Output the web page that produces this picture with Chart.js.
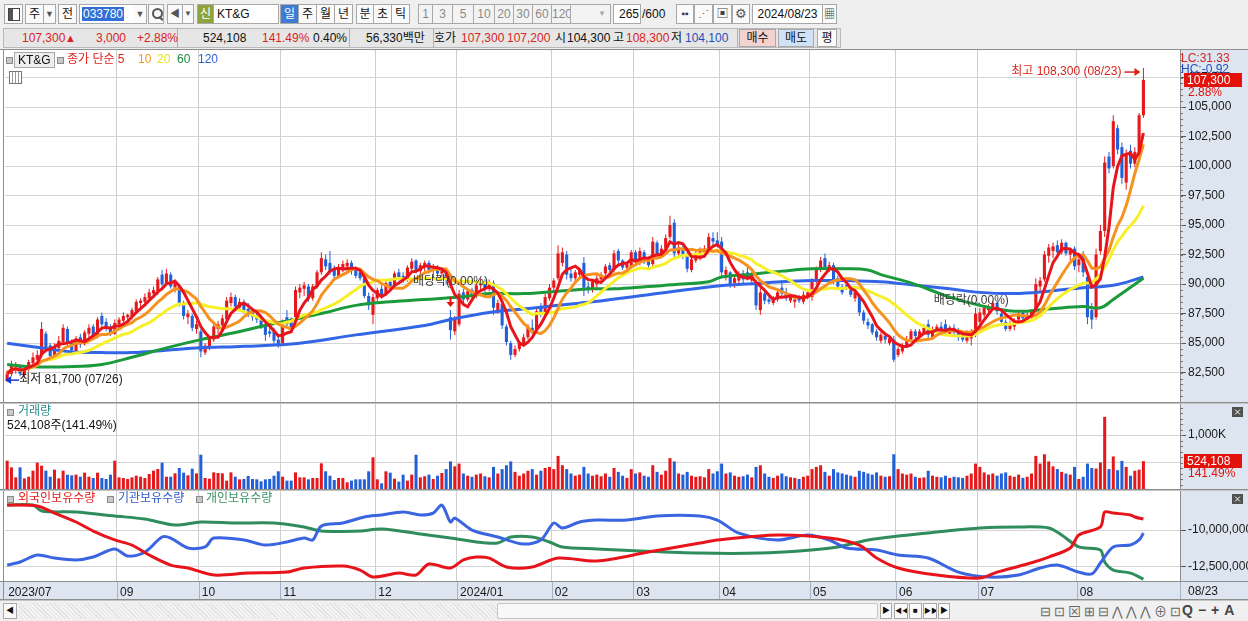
<!DOCTYPE html>
<html>
<head>
<meta charset="utf-8">
<script src="https://cdn.jsdelivr.net/npm/chart.js@4.4.1/dist/chart.umd.min.js"></script>
<style>
body{margin:0;width:1248px;height:621px;overflow:hidden;background:#efefef;position:relative;font:12px "Liberation Sans","Noto Sans CJK KR",sans-serif;color:#111}
.b{position:absolute;box-sizing:border-box;border:1px solid #a8a8a8;background:#fafafa;text-align:center;white-space:nowrap;overflow:hidden}
.r1{top:4px;height:20px;line-height:18px}
.t{position:absolute;white-space:nowrap;line-height:15px}
.red{color:#d8241c}.blu{color:#1d4fb8}
.num{color:#8a8a8a;background:#f3f3f3}
.sq{position:absolute;width:5px;height:5px;border:1px solid #8a8a8a;background:#c8c8c8}
.sep{position:absolute;top:0;width:1px;height:18px;background:#b0b0b0}
#wrap{position:absolute;left:0;top:49px;width:1248px;height:551px}
</style>
</head>
<body>
<!-- toolbar row 1 -->
<div class="b r1" style="left:4px;width:19px"><div style="position:absolute;left:3px;top:3px;width:10px;height:11px;border:1px solid #444;background:linear-gradient(90deg,#555 0 4px,#fff 4px)"></div></div>
<div class="b r1" style="left:25px;width:19px">주</div>
<div class="b r1" style="left:43px;width:13px;font-size:9px;color:#555">▼</div>
<div class="b r1" style="left:58px;width:19px">전</div>
<div class="b r1" style="left:79px;width:68px;background:#fff;text-align:left"><span style="margin-left:2px;background:#2f6fd6;color:#fff;padding:0 1px">033780</span></div>
<div class="b r1" style="left:134px;width:13px;font-size:9px;color:#555;border-left:none">▼</div>
<div class="b r1" style="left:148px;width:16px"><div style="position:absolute;left:3px;top:3px;width:7px;height:7px;border:2px solid #555;border-radius:50%"></div><div style="position:absolute;left:11px;top:11px;width:2px;height:5px;background:#555;transform:rotate(-45deg)"></div></div>
<div class="b r1" style="left:167px;width:16px;font-size:10px;color:#555">◀</div>
<div class="b r1" style="left:182px;width:12px;font-size:8px;color:#555">▼</div>
<div class="b r1" style="left:197px;width:17px;background:#8ea43a;color:#fff">신</div>
<div class="b r1" style="left:213px;width:66px;background:#fff;text-align:left;padding-left:3px">KT&amp;G</div>
<div class="b r1" style="left:280px;width:19px;background:#3e7bd2;color:#fff">일</div>
<div class="b r1" style="left:298px;width:19px">주</div>
<div class="b r1" style="left:316px;width:19px">월</div>
<div class="b r1" style="left:334px;width:19px">년</div>
<div class="b r1" style="left:356px;width:18px">분</div>
<div class="b r1" style="left:373px;width:19px">초</div>
<div class="b r1" style="left:391px;width:19px">틱</div>
<div class="b r1 num" style="left:418px;width:15px">1</div>
<div class="b r1 num" style="left:432px;width:21px">3</div>
<div class="b r1 num" style="left:452px;width:22px">5</div>
<div class="b r1 num" style="left:473px;width:22px">10</div>
<div class="b r1 num" style="left:494px;width:20px">20</div>
<div class="b r1 num" style="left:513px;width:20px">30</div>
<div class="b r1 num" style="left:532px;width:20px">60</div>
<div class="b r1 num" style="left:551px;width:20px">120</div>
<div class="b r1" style="left:570px;width:41px;background:#f3f3f3;text-align:right;padding-right:4px;font-size:8px;color:#aaa">▼</div>
<div class="b r1" style="left:613px;width:28px;background:#fff;text-align:right;padding-right:1px">265</div>
<div class="t" style="left:642px;top:7px">/600</div>
<div class="b r1" style="left:676px;width:18px;font-size:10px;color:#333">▪▪</div>
<div class="b r1" style="left:694px;width:19px;font-size:11px;color:#555">⋰</div>
<div class="b r1" style="left:713px;width:19px;font-size:12px;color:#444">▣</div>
<div class="b r1" style="left:732px;width:18px;font-size:13px;color:#555">⚙</div>
<div class="b r1" style="left:752px;width:71px;background:#fff">2024/08/23</div>
<div class="b r1" style="left:822px;width:15px;font-size:11px;color:#444">▦</div>

<!-- toolbar row 2 -->
<div style="position:absolute;left:3px;top:28px;width:838px;height:20px;background:#e6e6e6;border:1px solid #b8b8b8;box-sizing:border-box">
  <div class="sep" style="left:173px"></div><div class="sep" style="left:345px"></div><div class="sep" style="left:429px"></div><div class="sep" style="left:733px"></div>
</div>
<div class="t red" style="left:22px;top:31px">107,300</div>
<div class="t red" style="left:65px;top:31px;font-size:11px">▲</div>
<div class="t red" style="left:96px;top:31px">3,000</div>
<div class="t red" style="left:137px;top:31px">+2.88%</div>
<div class="t" style="left:203px;top:31px">524,108</div>
<div class="t red" style="left:262px;top:31px">141.49%</div>
<div class="t" style="left:313px;top:31px">0.40%</div>
<div class="t" style="left:366px;top:31px">56,330백만</div>
<div class="t" style="left:434px;top:31px">호가</div>
<div class="t red" style="left:461px;top:31px">107,300</div>
<div class="t red" style="left:507px;top:31px">107,200</div>
<div class="t" style="left:555px;top:31px">시</div>
<div class="t" style="left:567px;top:31px">104,300</div>
<div class="t" style="left:613px;top:31px">고</div>
<div class="t red" style="left:626px;top:31px">108,300</div>
<div class="t" style="left:671px;top:31px">저</div>
<div class="t blu" style="left:685px;top:31px">104,100</div>
<div class="b" style="left:739px;top:29px;width:37px;height:18px;line-height:16px;background:#f4d2d0">매수</div>
<div class="b" style="left:778px;top:29px;width:36px;height:18px;line-height:16px;background:#d2e2f6">매도</div>
<div class="b" style="left:817px;top:29px;width:20px;height:18px;line-height:16px;background:#fbfbfb">평</div>

<div id="wrap"><canvas id="c" width="1248" height="551"></canvas></div>

<!-- pane legends -->
<div class="sq" style="left:6px;top:57px"></div>
<div class="t" style="left:14px;top:52px;height:14px;padding:0 3px;border:1px solid #a8a8a8;background:#eeeeee">KT&amp;G</div>
<div class="sq" style="left:57px;top:57px"></div>
<div class="t" style="left:67px;top:52px;color:#e0201c">종가 단순 5</div>
<div class="t" style="left:138px;top:52px;color:#f29a1e">10</div>
<div class="t" style="left:157px;top:52px;color:#e6e21e">20</div>
<div class="t" style="left:177px;top:52px;color:#1e8c3c">60</div>
<div class="t" style="left:198px;top:52px;color:#3060d0">120</div>
<div style="position:absolute;left:9px;top:71px;width:11px;height:11px;border:1px solid #777;background:repeating-linear-gradient(90deg,#fff 0 2px,#999 2px 3px)"></div>

<div class="sq" style="left:7px;top:409px"></div>
<div class="t" style="left:18px;top:404px;color:#2a8c8c">거래량</div>
<div class="t" style="left:7px;top:418px">524,108주(141.49%)</div>

<div class="sq" style="left:7px;top:496px"></div>
<div class="t" style="left:18px;top:491px;color:#e0201c">외국인보유수량</div>
<div class="sq" style="left:107px;top:496px"></div>
<div class="t" style="left:118px;top:491px;color:#3058c8">기관보유수량</div>
<div class="sq" style="left:196px;top:496px"></div>
<div class="t" style="left:206px;top:491px;color:#3a9068">개인보유수량</div>

<!-- bottom scroll bar -->
<div style="position:absolute;left:0;top:600px;width:1248px;height:21px;background:#f0f0f0;border-top:1px solid #c4c4c4;box-sizing:border-box">
  <div class="b" style="left:3px;top:2px;width:14px;height:16px;line-height:14px;font-size:8px">◀</div>
  <div style="position:absolute;left:18px;top:2px;width:860px;height:16px;background:repeating-linear-gradient(45deg,#e2e2e2 0 1px,#f3f3f3 1px 3px)"></div>
  <div style="position:absolute;left:497px;top:2px;width:381px;height:16px;background:#f8f8f8;border:1px solid #c6c6c6;box-sizing:border-box;border-radius:2px"></div>
  <div class="b" style="left:880px;top:2px;width:12px;height:16px;line-height:14px;font-size:8px">▶</div>
  <div class="b" style="left:894px;top:2px;width:14px;height:16px;line-height:14px;font-size:7px">◀◀</div>
  <div class="b" style="left:909px;top:2px;width:13px;height:16px;line-height:14px;font-size:8px">■</div>
  <div class="b" style="left:923px;top:2px;width:14px;height:16px;line-height:14px;font-size:7px">▶▶</div>
  <div class="b" style="left:938px;top:2px;width:12px;height:16px;line-height:14px;font-size:8px">▶</div>
  <div class="t" style="left:1040px;top:3px;color:#666;font-size:13px;letter-spacing:3px">⊟⊡⊠⊞⊟⋀⋀⋀⊕⊡</div>
  <div class="t" style="left:1182px;top:2px;color:#444;font-size:14px;font-weight:bold;letter-spacing:5px">Q−+A</div>
</div>

<script>
// ---- data (prices in units of 100 won, volume in thousand shares, holdings in million shares) ----
const SLOTS = 273; // 265 trading days plus empty room on the right
const TICK_LABELS = ['2023/07', '09', '10', '11', '12', '2024/01', '02', '03', '04', '05', '06', '07', '08'];
const TICK_BARS = [0, 26, 45, 64, 86, 105, 127, 146, 166, 187, 207, 226, 249];
const PRICE_TICKS = [82500, 85000, 87500, 90000, 92500, 95000, 97500, 100000, 102500, 105000, 107500];
const VOLUME_TICKS = [500, 1000];
const HOLD_TICKS = [-12.5, -10];

const OPEN = [
  818,824,829,830,823,828,833,836,840,858,848,839,846,851,862,851,843,855,849,858,864,856,873,868,864,858,
  866,869,872,873,877,884,885,888,892,894,908,901,908,897,898,883,872,873,862,
  860,842,846,853,862,865,870,884,889,880,885,879,877,873,871,866,860,860,853,
  850,872,868,872,893,896,898,888,898,910,921,918,912,907,913,915,918,912,910,905,890,874,
  888,896,891,902,898,910,907,904,913,920,911,915,918,912,913,909,910,872,860,
  866,893,887,895,890,899,902,896,901,878,883,864,850,840,845,849,855,863,862,880,875,888,
  897,905,918,925,909,905,908,918,898,895,900,904,909,916,912,928,920,914,915,
  927,918,927,920,917,935,925,930,940,952,926,930,925,912,920,924,927,929,939,937,
  936,908,910,901,903,909,910,903,901,878,892,887,884,887,897,893,886,885,889,885,889,
  889,902,912,922,913,916,905,898,899,895,888,890,876,868,866,860,852,856,850,853,
  840,843,848,853,860,856,859,866,855,861,864,866,858,863,861,858,852,854,857,
  868,874,878,880,884,875,868,862,864,870,876,871,873,878,898,904,924,928,933,927,935,925,930,
  916,925,906,878,872,928,945,1008,1000,1032,1016,986,1013,1002,1012,1043
];
const HIGH = [
  827,835,834,832,831,836,842,844,868,860,850,850,856,866,864,853,856,858,861,866,866,872,876,871,866,870,
  872,876,875,880,887,888,892,896,898,906,912,913,910,904,900,886,878,875,869,
  862,850,856,866,869,874,889,893,891,888,887,884,880,877,874,868,866,863,857,
  870,878,872,898,900,902,900,900,912,927,925,928,916,917,920,921,920,915,913,906,893,892,
  897,899,903,905,911,913,910,916,922,921,918,920,920,917,916,914,912,878,873,
  895,896,896,897,901,905,904,904,903,887,885,866,852,848,852,858,866,870,880,884,892,900,
  905,933,931,928,914,912,914,923,902,904,908,910,917,918,929,930,921,919,929,
  929,931,929,922,940,937,933,942,958,955,934,933,927,924,929,931,933,943,944,944,
  940,915,911,908,911,912,917,910,903,898,895,889,890,896,903,897,892,890,891,894,895,
  905,915,923,926,919,918,907,900,903,897,896,891,878,871,867,862,859,858,856,856,
  847,850,856,862,862,862,866,870,864,866,868,870,865,866,863,860,861,862,880,
  880,882,883,886,886,877,870,869,871,877,878,877,879,905,906,928,934,935,937,938,936,931,932,
  925,928,908,884,930,950,1008,1012,1043,1035,1020,1014,1018,1016,1045,1083
];
const LOW = [
  817,822,824,822,821,826,830,833,838,842,836,837,843,849,848,840,842,846,848,855,853,854,864,860,856,857,
  864,866,867,870,875,878,881,885,888,891,898,899,896,893,881,870,866,860,858,
  838,840,844,851,858,862,868,881,878,877,875,872,869,867,862,852,855,848,846,
  848,864,860,870,888,890,885,886,896,908,912,908,904,905,910,911,908,905,903,888,878,866,
  885,888,890,895,896,903,901,902,910,909,908,911,909,906,906,904,900,853,857,
  864,884,885,887,888,894,893,894,874,875,862,848,836,838,843,847,853,858,860,872,873,886,
  894,903,915,904,902,902,905,890,892,893,897,901,907,910,910,917,912,911,913,
  916,916,917,913,914,921,922,928,938,922,924,921,910,910,918,920,923,926,933,931,
  905,903,897,897,900,901,903,899,878,874,883,883,882,885,890,886,884,880,884,883,887,
  886,900,910,912,910,900,896,891,895,889,885,873,866,862,857,852,850,850,848,834,
  838,841,846,851,853,854,857,852,853,859,858,858,856,857,852,851,850,848,855,
  865,872,875,878,874,866,860,860,861,868,869,869,871,876,893,902,918,922,925,925,924,920,912,
  910,906,866,862,870,925,940,994,998,1010,985,980,998,999,1008,1041
];
const CLOSE = [
  824,831,830,824,829,834,838,840,862,846,839,847,852,863,850,844,854,849,859,863,856,870,866,862,858,867,
  870,873,874,878,885,886,889,893,895,904,900,909,898,901,884,873,875,863,866,
  843,848,854,864,866,871,886,889,881,885,878,876,872,870,865,857,858,852,849,
  868,866,863,895,897,899,888,898,910,922,915,910,907,914,917,918,911,907,905,890,882,889,
  895,891,901,898,909,906,904,914,919,911,916,918,912,914,909,911,904,861,870,
  892,887,894,890,899,902,896,901,880,884,865,851,840,845,850,855,864,860,877,874,889,897,
  903,926,927,908,905,910,912,897,895,902,905,908,915,912,926,920,914,917,927,
  919,928,920,916,936,924,930,939,950,926,931,925,913,921,926,928,930,940,936,934,
  910,912,900,905,909,904,906,907,882,893,886,885,888,893,892,888,890,887,886,891,893,
  902,912,920,914,916,903,898,893,897,891,893,876,869,865,859,855,857,853,854,836,
  845,848,853,860,856,860,863,857,862,864,861,860,863,859,855,853,858,860,875,
  876,880,881,884,877,868,862,866,869,875,871,874,877,900,903,925,931,932,927,935,926,928,915,
  921,910,872,870,925,945,1003,998,1038,1014,990,1010,1002,1012,1043,1073
];
const VOLUME = [
  533,412,230,412,212,242,352,497,442,352,242,370,212,352,279,267,279,242,315,242,218,315,218,200,279,533,
  230,218,200,230,260,242,218,291,352,382,497,242,242,303,400,315,267,388,303,
  642,218,206,321,309,303,170,321,242,194,200,255,200,194,158,194,200,260,340,
  242,170,170,321,230,230,194,218,218,485,340,260,182,218,218,140,170,194,194,194,340,594,
  194,121,340,315,206,152,279,170,279,642,230,250,280,200,260,310,380,520,430,
  480,300,260,240,280,300,250,230,420,300,380,450,520,330,260,300,350,380,280,350,400,420,
  380,620,450,380,300,260,280,420,300,260,280,250,300,240,400,330,260,220,380,
  300,320,260,240,450,330,280,350,580,520,300,280,330,260,240,250,230,380,300,340,
  480,300,320,260,240,250,280,230,420,450,300,240,220,260,300,250,230,220,200,240,260,
  380,420,450,330,260,380,320,300,280,260,240,350,330,300,280,320,260,240,250,650,
  380,300,280,300,240,220,230,350,260,240,230,260,220,240,230,220,260,300,480,
  420,320,280,300,260,300,320,260,240,280,220,240,300,620,480,650,520,430,380,330,300,280,420,
  200,240,480,400,390,500,1330,380,610,360,530,420,260,350,370.42,524.108
];
// long moving averages at sample bars
const MA60_BARS = [0,6,14,22,29,37,45,53,60,68,74,81,89,97,105,112,120,128,136,141,149,157,163,166,172,180,187,195,200,203,210,219,226,234,242,250,254,257,264];
const MA60 = [832,830,830,832,838,846,853,859,865,871,876,882,885,887,889,892,892,894,896,896,898,900,902,906,908,911,913,913,912,908,901,889,882,877,879,881,880,887,905];
const MA120_BARS = [0,6,14,22,29,37,45,53,60,68,81,97,103,112,120,128,136,149,164,172,180,187,195,203,211,219,226,234,242,250,257,264];
const MA120 = [850,847,843,842,842,844,846,847,848,850,857,865,870,876,879,882,885,891,898,900,902,903,903,902,899,896,893,892,894,897,899,906];
// holdings (foreign / institution / individual)
const FOREIGN_BARS = [0,7,11,16,20,25,29,33,38,42,48,56,65,69,78,82,85,91,95,98,103,106,109,112,116,122,128,137,149,161,165,179,191,198,202,207,216,226,230,237,242,247,249,254,255,257,261,262,264];
const FOREIGN = [-8.29,-8.36,-8.84,-9.45,-10.07,-10.68,-11.03,-11.71,-12.40,-12.60,-13.08,-12.95,-12.88,-12.60,-12.47,-12.74,-13.22,-12.95,-13.08,-12.33,-12.60,-12.05,-11.85,-11.92,-12.53,-12.53,-11.92,-12.12,-11.51,-10.89,-10.68,-10.34,-10.55,-11.03,-11.92,-12.60,-13.08,-13.29,-12.88,-12.33,-11.85,-11.23,-10.34,-9.79,-8.77,-8.84,-8.97,-9.11,-9.25];
const INST_BARS = [0,3,7,11,16,20,25,28,32,36,38,42,46,48,55,60,65,69,71,73,78,83,87,92,96,99,101,103,104,108,114,120,124,127,129,133,137,144,151,161,165,170,179,186,191,195,202,207,214,221,228,235,240,244,249,252,254,257,261,263,264];
const INST = [-12.40,-12.19,-11.71,-11.92,-12.05,-11.85,-11.30,-11.78,-11.51,-10.48,-10.55,-11.23,-11.16,-10.55,-10.68,-11.03,-10.82,-10.55,-10.68,-9.73,-9.52,-9.11,-8.97,-8.77,-8.97,-8.84,-8.29,-9.45,-9.18,-10.00,-10.48,-10.96,-10.68,-9.52,-9.86,-9.45,-9.32,-9.32,-9.04,-9.04,-9.32,-10.21,-10.68,-10.34,-10.68,-11.23,-11.37,-11.71,-11.92,-12.88,-13.22,-13.08,-12.60,-12.40,-12.88,-13.01,-12.26,-11.16,-11.03,-10.68,-10.21];
const INDIV_BARS = [0,6,8,16,25,32,39,45,53,62,69,73,82,87,96,103,109,114,117,122,126,129,137,147,161,175,184,193,200,207,216,226,235,242,245,249,254,255,257,261,264];
const INDIV = [-8.29,-8.29,-8.70,-8.77,-9.04,-9.25,-9.66,-9.45,-9.52,-9.52,-9.79,-10.07,-10.07,-9.93,-10.27,-10.55,-10.82,-10.89,-10.48,-10.48,-10.82,-11.16,-11.30,-11.44,-11.58,-11.58,-11.44,-11.16,-10.68,-10.41,-10.14,-9.86,-9.79,-9.86,-10.34,-11.16,-11.37,-12.19,-12.74,-12.95,-13.36];

const EX_DIV_BARS = [103, 224];
const HIGH_DATE = '08/23';
const LOW_DATE = '07/26';

// ---- helpers ----
const FONT = '12px "Liberation Sans", "Noto Sans CJK KR", sans-serif';
const UP = '#e5191b', DOWN = '#2160d8', CLEAR = 'rgba(0,0,0,0)';
Chart.defaults.font.family = '"Liberation Sans", "Noto Sans CJK KR", sans-serif';
Chart.defaults.font.size = 12;
Chart.defaults.color = '#1a1a1a';

const won = v => v * 100;
const fmt = v => Math.round(v).toLocaleString('en-US');
function sma(values, n) {
  return values.map((v, i) => {
    const from = Math.max(0, i - n + 1);
    let s = 0;
    for (let k = from; k <= i; k++) s += values[k];
    return s / (i - from + 1);
  });
}
const pts = (bars, vals, f) => bars.map((b, k) => ({x: b, y: f(vals[k])}));
const closeW = CLOSE.map(won);
const barColor = OPEN.map((o, i) => CLOSE[i] >= o ? UP : DOWN);
const labels = [];
for (let i = 0; i < SLOTS; i++) labels.push(i);

const last = CLOSE.length - 1;
const iHigh = HIGH.indexOf(Math.max(...HIGH));
const iLow = LOW.indexOf(Math.min(...LOW));

function arrow(ctx, x1, y, x2, color) {
  const d = x2 > x1 ? 1 : -1;
  ctx.strokeStyle = color; ctx.fillStyle = color; ctx.lineWidth = 1.5;
  ctx.beginPath(); ctx.moveTo(x1, y); ctx.lineTo(x2 - d * 4, y); ctx.stroke();
  ctx.beginPath(); ctx.moveTo(x2, y); ctx.lineTo(x2 - d * 6, y - 4); ctx.lineTo(x2 - d * 6, y + 4); ctx.closePath(); ctx.fill();
}

// fixed tick sets, and no extra label padding so the panes keep their full height
const fixTicks = list => s => { s.ticks = list.map(v => ({value: v})); };
const fitRight = s => { s.width = 68; s.paddingTop = 0; s.paddingBottom = 0; };

const panes = {
  id: 'panes',
  beforeDraw(chart) {
    const {ctx, chartArea: a, scales: {x: xs}} = chart;
    ctx.save();
    ctx.fillStyle = '#fff';
    ctx.fillRect(0, 0, chart.width, chart.height);
    ctx.fillStyle = '#dce5f0';
    ctx.fillRect(a.right, 0, chart.width - a.right, chart.height);
    ctx.fillRect(0, xs.top, chart.width, xs.bottom - xs.top);
    const half = (xs.getPixelForValue(1) - xs.getPixelForValue(0)) / 2;
    ctx.strokeStyle = '#a6b3c6'; ctx.lineWidth = 1;
    ctx.beginPath();
    TICK_BARS.forEach(b => {
      if (b === 0) return;
      const px = Math.round(xs.getPixelForValue(b) - half) + 0.5;
      ctx.moveTo(px, xs.top); ctx.lineTo(px, xs.bottom);
    });
    ctx.moveTo(a.right + 0.5, xs.top); ctx.lineTo(a.right + 0.5, xs.bottom);
    ctx.stroke();
    ctx.restore();
  },
  afterDraw(chart) {
    const {ctx, chartArea: a, scales: {x: xs, y: ys, yv, yh}} = chart;
    ctx.save();
    ctx.font = FONT;
    // minor tick marks on the price and volume axes
    ctx.strokeStyle = '#777'; ctx.lineWidth = 1;
    ctx.beginPath();
    for (let v = 80500; v < 109800; v += 500) {
      const py = Math.round(ys.getPixelForValue(v)) + 0.5;
      ctx.moveTo(a.right, py); ctx.lineTo(a.right + 3, py);
    }
    for (let v = 100; v < 1580; v += 100) {
      const py = Math.round(yv.getPixelForValue(v)) + 0.5;
      ctx.moveTo(a.right, py); ctx.lineTo(a.right + 3, py);
    }
    ctx.stroke();
    // pane frames
    ctx.strokeStyle = '#8e8e8e';
    ctx.beginPath();
    ctx.moveTo(0, 0.5); ctx.lineTo(chart.width, 0.5);
    ctx.moveTo(3.5, 0); ctx.lineTo(3.5, xs.bottom);
    [ys.bottom, yv.bottom].forEach(y => { ctx.moveTo(0, Math.round(y) - 0.5); ctx.lineTo(chart.width, Math.round(y) - 0.5); });
    ctx.moveTo(0, Math.round(xs.top) + 0.5); ctx.lineTo(chart.width, Math.round(xs.top) + 0.5);
    ctx.moveTo(0, xs.bottom - 0.5); ctx.lineTo(chart.width, xs.bottom - 0.5);
    ctx.stroke();
    ctx.strokeStyle = '#c4c4c4';
    ctx.beginPath();
    [ys.bottom, yv.bottom].forEach(y => { ctx.moveTo(0, Math.round(y) + 0.5); ctx.lineTo(chart.width, Math.round(y) + 0.5); });
    ctx.stroke();

    // right panel texts
    ctx.textBaseline = 'top'; ctx.textAlign = 'left';
    ctx.fillStyle = '#d8241c'; ctx.fillText('LC:31.33', a.right + 1, 4);
    ctx.fillStyle = '#2050c0'; ctx.fillText('HC:-0.92', a.right + 1, 15);

    ctx.textBaseline = 'middle';
    const yp = ys.getPixelForValue(closeW[last]);
    ctx.fillStyle = '#e3120b';
    ctx.fillRect(a.right + 4, Math.round(yp) - 7, 58, 14);
    ctx.fillStyle = '#fff';
    ctx.fillText(fmt(closeW[last]), a.right + 7, yp + 0.5);
    ctx.fillStyle = '#e3120b';
    const pct = (CLOSE[last] - CLOSE[last - 1]) / CLOSE[last - 1] * 100;
    ctx.fillText(pct.toFixed(2) + '%', a.right + 8, yp + 13);

    const yvp = yv.getPixelForValue(VOLUME[last]);
    ctx.fillRect(a.right + 4, Math.round(yvp) - 7, 58, 14);
    ctx.fillStyle = '#fff';
    ctx.fillText(fmt(VOLUME[last] * 1000), a.right + 7, yvp + 0.5);
    ctx.fillStyle = '#e3120b';
    ctx.fillText((VOLUME[last] / VOLUME[last - 1] * 100).toFixed(2) + '%', a.right + 8, yvp + 13);

    // close boxes of the lower panes
    [yv.top, yh.top].forEach(t => {
      ctx.fillStyle = '#505050';
      ctx.fillRect(a.right + 52, t + 4, 11, 10);
      ctx.strokeStyle = '#fff'; ctx.lineWidth = 1;
      ctx.beginPath();
      ctx.moveTo(a.right + 55, t + 6.5); ctx.lineTo(a.right + 60, t + 11.5);
      ctx.moveTo(a.right + 60, t + 6.5); ctx.lineTo(a.right + 55, t + 11.5);
      ctx.stroke();
    });

    // date in the axis band
    ctx.fillStyle = '#1a1a1a';
    ctx.fillText(HIGH_DATE, a.right + 8, (xs.top + xs.bottom) / 2 + 1);

    // high / low notes
    const hx = xs.getPixelForValue(iHigh), hy = ys.getPixelForValue(won(HIGH[iHigh])) + 4;
    ctx.fillStyle = '#d8241c'; ctx.textAlign = 'right';
    ctx.fillText('최고 ' + fmt(won(HIGH[iHigh])) + ' (' + HIGH_DATE + ')', hx - 22, hy);
    arrow(ctx, hx - 19, hy, hx - 3, '#d8241c');

    const lx = xs.getPixelForValue(iLow), ly = ys.getPixelForValue(won(LOW[iLow])) - 2;
    arrow(ctx, lx + 12, ly, lx - 2, '#1838d8');
    ctx.fillStyle = '#1a1a1a'; ctx.textAlign = 'left';
    ctx.fillText('최저 ' + fmt(won(LOW[iLow])) + ' (' + LOW_DATE + ')', lx + 12, ly);

    // ex-dividend notes
    ctx.textAlign = 'center';
    EX_DIV_BARS.forEach((b, k) => {
      const bx = xs.getPixelForValue(b), by = ys.getPixelForValue(won(HIGH[b]));
      ctx.fillStyle = '#3a3a3a';
      ctx.fillText('배당락(0.00%)', bx, by - 28);
      if (k === 0) {
        ctx.fillStyle = '#e3120b'; ctx.strokeStyle = '#e3120b'; ctx.lineWidth = 2;
        ctx.beginPath(); ctx.moveTo(bx, by - 13); ctx.lineTo(bx, by - 7); ctx.stroke();
        ctx.beginPath(); ctx.moveTo(bx - 4, by - 8); ctx.lineTo(bx + 4, by - 8); ctx.lineTo(bx, by - 3); ctx.closePath(); ctx.fill();
      }
    });
    ctx.restore();
  }
};

const lineBase = {type: 'line', pointRadius: 0, borderWidth: 3, fill: false};
const gridGrey = '#d4d4d4';

new Chart(document.getElementById('c'), {
  type: 'bar',
  data: {
    labels: labels,
    datasets: [
      {...lineBase, label: 'MA5', data: sma(closeW, 5), borderColor: '#e8141c', order: 1, yAxisID: 'y'},
      {...lineBase, label: 'MA10', data: sma(closeW, 10), borderColor: '#f6921e', order: 2, yAxisID: 'y'},
      {...lineBase, label: 'MA20', data: sma(closeW, 20), borderColor: '#f7ef2a', order: 3, yAxisID: 'y'},
      {...lineBase, label: 'MA60', data: pts(MA60_BARS, MA60, won), borderColor: '#1b9a3b', tension: 0.4, order: 4, yAxisID: 'y'},
      {...lineBase, label: 'MA120', data: pts(MA120_BARS, MA120, won), borderColor: '#3366e6', tension: 0.4, order: 5, yAxisID: 'y'},
      {type: 'bar', label: 'body', data: OPEN.map((o, i) => [won(o), won(CLOSE[i])]), backgroundColor: barColor,
       barPercentage: 0.72, categoryPercentage: 1, grouped: false, minBarLength: 1, order: 6, yAxisID: 'y'},
      {type: 'bar', label: 'wick', data: LOW.map((l, i) => [won(l), won(HIGH[i])]), backgroundColor: barColor,
       barThickness: 1, inflateAmount: 0, grouped: false, order: 7, yAxisID: 'y'},
      {type: 'bar', label: '거래량', data: VOLUME, backgroundColor: barColor,
       barPercentage: 0.7, categoryPercentage: 1, grouped: false, order: 8, yAxisID: 'yv'},
      {...lineBase, label: '외국인보유수량', data: pts(FOREIGN_BARS, FOREIGN, v => v), borderColor: '#e8141c', tension: 0.3, order: 9, yAxisID: 'yh'},
      {...lineBase, label: '기관보유수량', data: pts(INST_BARS, INST, v => v), borderColor: '#3a64e0', tension: 0.3, order: 10, yAxisID: 'yh'},
      {...lineBase, label: '개인보유수량', data: pts(INDIV_BARS, INDIV, v => v), borderColor: '#2f8c5c', tension: 0.3, order: 11, yAxisID: 'yh'}
    ]
  },
  options: {
    responsive: false,
    animation: false,
    events: [],
    layout: {padding: {left: 5, top: 1, right: 0, bottom: 0}},
    plugins: {legend: {display: false}, tooltip: {enabled: false}},
    scales: {
      x: {
        type: 'category',
        offset: true,
        grid: {offset: true, drawTicks: false, color: c => (c.index > 0 && TICK_BARS.includes(c.index)) ? '#cfcfcf' : CLEAR},
        border: {display: false},
        ticks: {
          autoSkip: false, maxRotation: 0, minRotation: 0, align: 'start', padding: 4, labelOffset: 1,
          callback: (v, i) => { const k = TICK_BARS.indexOf(i); return k < 0 ? '' : TICK_LABELS[k]; }
        },
        afterFit: s => { s.height = 19; s.paddingLeft = 0; s.paddingRight = 0; }
      },
      y: {
        type: 'linear', position: 'right', stack: 'pane', stackWeight: 353,
        min: 79930, max: 109830,
        afterBuildTicks: fixTicks(PRICE_TICKS),
        grid: {color: gridGrey, tickColor: '#555', tickLength: 6},
        border: {color: '#8c8c8c'},
        ticks: {autoSkip: false, padding: 2, callback: v => fmt(v)},
        afterFit: fitRight
      },
      yv: {
        type: 'linear', position: 'right', stack: 'pane', stackWeight: 87,
        min: 0, max: 1582,
        afterBuildTicks: fixTicks(VOLUME_TICKS),
        grid: {color: gridGrey, tickColor: c => c.tick.value === 1000 ? '#555' : CLEAR, tickLength: 6},
        border: {color: '#8c8c8c'},
        ticks: {autoSkip: false, padding: 2, callback: v => v === 1000 ? '1,000K' : ''},
        afterFit: fitRight
      },
      yh: {
        type: 'linear', position: 'right', stack: 'pane', stackWeight: 91,
        min: -13.49, max: -7.26,
        afterBuildTicks: fixTicks(HOLD_TICKS),
        grid: {color: gridGrey, tickColor: '#555', tickLength: 6},
        border: {color: '#8c8c8c'},
        ticks: {autoSkip: false, padding: 2, callback: v => fmt(v * 1e6)},
        afterFit: fitRight
      }
    }
  },
  plugins: [panes]
});
</script>
</body>
</html>
